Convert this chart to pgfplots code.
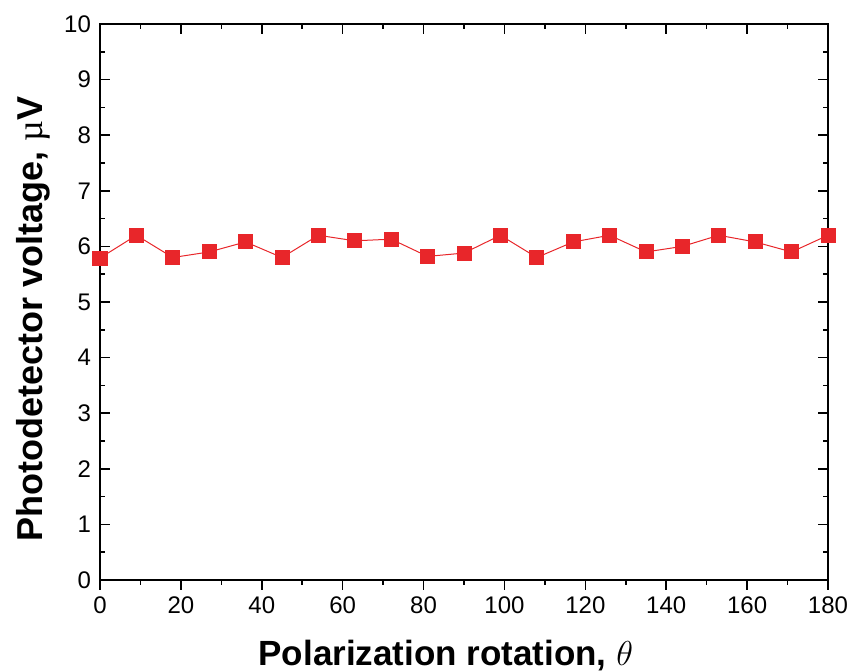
\documentclass[border=0pt]{standalone}
\usepackage{pgfplots}
\pgfplotsset{compat=1.18}
\usetikzlibrary{calc}
\usepackage{fontspec}
\setmainfont{Liberation Sans}
\newfontfamily\serifmu{Liberation Serif}
\definecolor{ptred}{RGB}{232,38,42}

\begin{document}
\begin{tikzpicture}
\pgfplotsset{
  common/.style={
    scale only axis,
    width=364pt, height=278pt,
    xmin=0, xmax=180, ymin=0, ymax=10,
    xtick={0,20,...,180}, ytick={0,1,...,10},
    minor x tick num=1, minor y tick num=1,
    major tick length=5pt, minor tick length=2.5pt,
    tick style={line width=0.8pt, black},
    axis line style={line width=1pt},
    tick label style={font=\fontsize{12}{14}\selectfont},
    /pgf/number format/assume math mode=true,
  }
}
\begin{axis}[common, name=ax,
  tick align=inside,
  xtick pos=top, xticklabels={},
  ylabel={\textbf{Photodetector voltage, {\serifmu\mdseries µ}V}},
  ylabel style={font=\fontsize{18}{20}\selectfont,
    at={(axis description cs:-0.079,0.47)}, anchor=base},
  y tick label style={xshift=-1pt},
]
\addplot[ptred, line width=0.5pt, mark=square*, mark size=3.5pt,
  mark options={fill=ptred, draw=ptred, line width=0pt}] coordinates {
  (0,5.79) (9,6.2) (18,5.8) (27,5.9) (36,6.08) (45,5.8) (54,6.2)
  (63,6.1) (72,6.13) (81,5.82) (90,5.88) (99,6.2) (108,5.8) (117,6.08)
  (126,6.2) (135,5.9) (144,6.0) (153,6.2) (162,6.08) (171,5.9) (180,6.2)
};
\end{axis}
\begin{axis}[common,
  axis x line*=bottom, axis y line=none,
  tick align=outside,
  xlabel={\textbf{Polarization rotation, $\theta$}},
  xlabel style={font=\fontsize{17.5}{20}\selectfont,
    at={(axis description cs:0.475,-0.153)}, anchor=base},
]
\end{axis}
\pgfresetboundingbox
\path[use as bounding box] ($(ax.south west)+(-50pt,-46pt)$) rectangle ($(ax.north east)+(11pt,12pt)$);
\end{tikzpicture}
\end{document}
